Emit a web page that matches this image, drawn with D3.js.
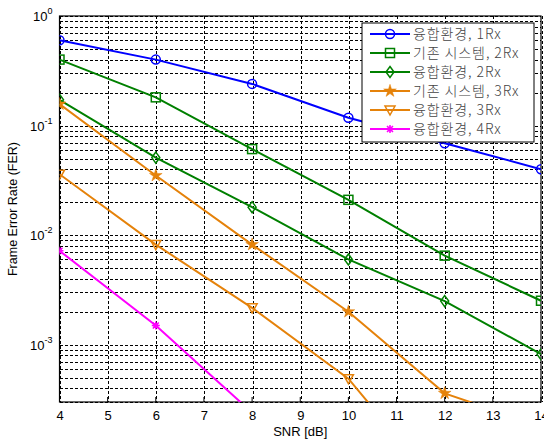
<!DOCTYPE html>
<html>
<head>
<meta charset="utf-8">
<script src="https://cdn.jsdelivr.net/npm/d3@7"></script>
<style>
  body { margin: 0; background: #fff; }
  text { font-family: "Liberation Sans", Arial, sans-serif; }
</style>
</head>
<body>
<div id="chart"></div>
<script>
// chart data
var snr = [4, 6, 8, 10, 12, 14];
var fer1Rx = [0.60, 0.40, 0.24, 0.118, 0.069, 0.040];
var ferBase2Rx = [0.40, 0.181, 0.061, 0.021, 0.0065, 0.00252];
var fer2Rx = [0.172, 0.051, 0.018, 0.006, 0.0025, 0.00082];
var ferBase3Rx = [0.157, 0.035, 0.0082, 0.002, 0.00036, 0.00018];
var fer3Rx = [0.036, 0.0082, 0.00217, 0.00049, 0.000043];
var fer4Rx = [0.0072, 0.0015, 0.00024];
var seriesNames = ["융합환경, 1Rx", "기존 시스템, 2Rx", "융합환경, 2Rx", "기존 시스템, 3Rx", "융합환경, 3Rx", "융합환경, 4Rx"];
var seriesColors = ["#0000ff", "#008000", "#008000", "#e5820a", "#e5820a", "#ff00ff"];
var seriesMarkers = ["circle", "square", "diamond", "star", "triangle", "asterisk"];
var xTicks = [4, 5, 6, 7, 8, 9, 10, 11, 12, 13, 14];
var yDecades = [1, 0.1, 0.01, 0.001];

var W = 544, H = 441;
var margin = {top: 16, right: 3, bottom: 39, left: 59.5};
var width = W - margin.left - margin.right,
    height = H - margin.top - margin.bottom;

var svg = d3.select("#chart").append("svg")
  .attr("width", W).attr("height", H);

var g = svg.append("g")
  .attr("transform", "translate(" + margin.left + "," + margin.top + ")");

var x = d3.scaleLinear().domain([4, 14]).range([0, width]);
var y = d3.scaleLog().domain([3e-4, 1]).range([height, 0]);

g.append("clipPath").attr("id", "clip")
  .append("rect").attr("width", width).attr("height", height);

// grid lines (minor ones on every 1..9 of each decade)
var yGrid = [];
[1e-4, 1e-3, 1e-2, 1e-1].forEach(function(d) {
  for (var k = 1; k < 10; k++) {
    var v = d * k;
    if (v >= 3e-4 && v <= 1) yGrid.push(v);
  }
});
yGrid.push(1);

var grid = g.append("g").attr("stroke", "#000").attr("stroke-width", 1)
  .attr("stroke-dasharray", "3,2").attr("shape-rendering", "crispEdges");
grid.selectAll(".gy").data(yGrid).enter().append("line")
  .attr("x1", 0).attr("x2", width)
  .attr("y1", function(d) { return Math.round(y(d)) + 0.5; })
  .attr("y2", function(d) { return Math.round(y(d)) + 0.5; });
grid.selectAll(".gx").data(xTicks).enter().append("line")
  .attr("y1", 0).attr("y2", height)
  .attr("x1", function(d) { return Math.round(x(d)) + 0.5; })
  .attr("x2", function(d) { return Math.round(x(d)) + 0.5; });

// axes box
g.append("rect").attr("width", width).attr("height", height)
  .attr("fill", "none").attr("stroke", "#000").attr("stroke-width", 1.2);

// x axis
var xAxis = g.append("g").attr("transform", "translate(0," + height + ")")
  .call(d3.axisBottom(x).tickValues(xTicks).tickSize(0).tickPadding(9).tickFormat(d3.format("d")));
xAxis.select(".domain").remove();
xAxis.selectAll("text").attr("font-size", 13).attr("fill", "#000");
// small inward ticks
g.selectAll(".xt").data(xTicks).enter().append("line")
  .attr("x1", function(d) { return x(d); }).attr("x2", function(d) { return x(d); })
  .attr("y1", height).attr("y2", height - 5).attr("stroke", "#000");

// y axis labels as 10^k
var yAxis = g.append("g");
yDecades.forEach(function(v) {
  var t = yAxis.append("text")
    .attr("x", -7).attr("y", y(v) + 5)
    .attr("text-anchor", "end").attr("font-size", 13).attr("fill", "#000");
  var e = Math.round(Math.log10(v));
  t.append("tspan").text("10");
  t.append("tspan").attr("dy", -7).attr("font-size", 9).text(e === 0 ? "0" : String(e));
});

svg.append("text")
  .attr("transform", "translate(17," + (margin.top + height / 2) + ") rotate(-90)")
  .attr("text-anchor", "middle").attr("font-size", 12.5).attr("fill", "#000")
  .text("Frame Error Rate (FER)");
svg.append("text")
  .attr("x", margin.left + width / 2).attr("y", 436)
  .attr("text-anchor", "middle").attr("font-size", 13).attr("fill", "#000")
  .text("SNR [dB]");

// marker drawing
function drawMarker(sel, type, color) {
  if (type === "circle") {
    sel.append("circle").attr("r", 4.5).attr("fill", "none").attr("stroke", color).attr("stroke-width", 1.5);
  } else if (type === "square") {
    sel.append("rect").attr("x", -4.5).attr("y", -4.5).attr("width", 9).attr("height", 9)
      .attr("fill", "none").attr("stroke", color).attr("stroke-width", 1.5);
  } else if (type === "diamond") {
    sel.append("path").attr("d", "M0,-5.5L4,0L0,5.5L-4,0Z")
      .attr("fill", "none").attr("stroke", color).attr("stroke-width", 1.5);
  } else if (type === "triangle") {
    sel.append("path").attr("d", "M-5,-4L5,-4L0,5Z")
      .attr("fill", "none").attr("stroke", color).attr("stroke-width", 1.5);
  } else if (type === "star") {
    sel.append("path").attr("d", d3.symbol().type(d3.symbolStar).size(50)())
      .attr("fill", color).attr("stroke", color).attr("stroke-width", 0.5);
  } else if (type === "asterisk") {
    sel.append("circle").attr("r", 2.5).attr("fill", color);
    sel.append("path").attr("d", "M-4,0L4,0M0,-4L0,4M-3,-3L3,3M-3,3L3,-3")
      .attr("stroke", color).attr("stroke-width", 1.5);
  }
}

var allSeries = [fer1Rx, ferBase2Rx, fer2Rx, ferBase3Rx, fer3Rx, fer4Rx];
var line = d3.line().x(function(d) { return x(d[0]); }).y(function(d) { return y(d[1]); });

var plot = g.append("g").attr("clip-path", "url(#clip)");
allSeries.forEach(function(vals, i) {
  var pts = vals.map(function(v, j) { return [snr[j], v]; });
  plot.append("path").datum(pts)
    .attr("fill", "none").attr("stroke", seriesColors[i]).attr("stroke-width", 2)
    .attr("d", line);
  pts.filter(function(p) { return p[1] >= 3e-4; }).forEach(function(p) {
    var m = plot.append("g").attr("transform", "translate(" + x(p[0]) + "," + y(p[1]) + ")");
    drawMarker(m, seriesMarkers[i], seriesColors[i]);
  });
});

// legend
var lg = svg.append("g").attr("transform", "translate(362,23)");
lg.append("rect").attr("width", 172).attr("height", 119)
  .attr("fill", "#fff").attr("stroke", "#000").attr("stroke-width", 1);
seriesNames.forEach(function(name, i) {
  var row = lg.append("g").attr("transform", "translate(0," + (11 + i * 19) + ")");
  row.append("line").attr("x1", 8).attr("x2", 48).attr("y1", 0).attr("y2", 0)
    .attr("stroke", seriesColors[i]).attr("stroke-width", 2);
  var m = row.append("g").attr("transform", "translate(28,0)");
  drawMarker(m, seriesMarkers[i], seriesColors[i]);
  row.append("text").attr("x", 51).attr("y", 5)
    .attr("font-size", 14).attr("fill", "#444").attr("letter-spacing", 0.9)
    .style("font-family", "'Noto Sans CJK KR', sans-serif").style("font-weight", 300)
    .text(name);
});
</script>
</body>
</html>
